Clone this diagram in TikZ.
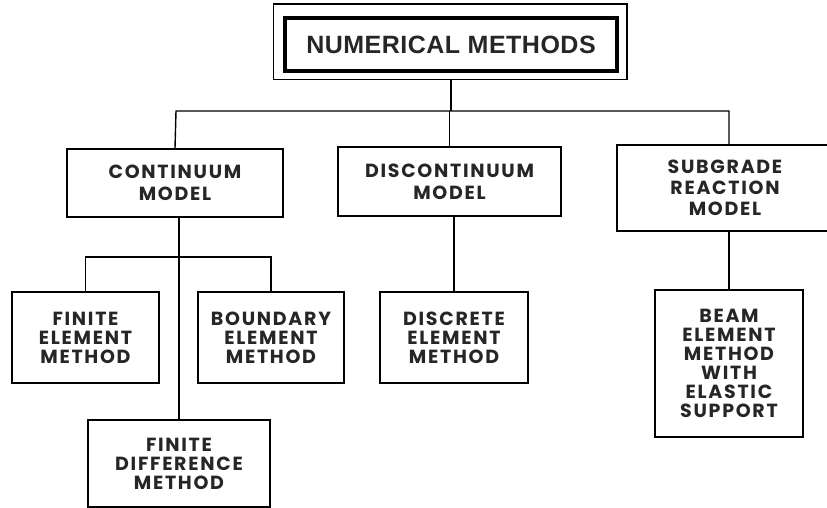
\documentclass[tikz,border=0pt]{standalone}
\usepackage{fontspec}
\setmainfont{Poppins}[LetterSpace=9]
\newfontfamily\titlefont{Liberation Sans}[LetterSpace=2]
\usetikzlibrary{calc}
\begin{document}
\begin{tikzpicture}[x=1pt,y=-1pt,
  box/.style={draw, line width=1.6pt, rectangle, align=center, inner sep=0pt,
    font=\bfseries\fontsize{19}{19}\selectfont, text=black!85},
  conn/.style={line width=1.4pt}]
\useasboundingbox (0,0) rectangle (827,508);
\fill[white] (0,0) rectangle (827,508);
\begin{scope}
\clip (0,0) rectangle (827,508);
% title
\node[draw, line width=3.6pt, minimum width=332pt, minimum height=53pt, inner sep=0pt,
  font=\titlefont\bfseries\fontsize{25}{28}\selectfont, text=black!85] (title) at (451,44.5) {NUMERICAL METHODS};
\draw[line width=1.4pt] ($(title.north west)+(-10,-12)$) rectangle ($(title.south east)+(8,7)$);
% level 2
\node[box, minimum width=216pt, minimum height=68pt] (cont) at (175,183) {CONTINUUM\\[3pt]MODEL};
\node[box, minimum width=223pt, minimum height=69pt] (disc) at (449.5,181.5) {DISCONTINUUM\\[3pt]MODEL};
\node[box, minimum width=216pt, minimum height=86pt] (subg) at (725,188) {SUBGRADE\\[2pt]REACTION\\[2pt]MODEL};
% level 3
\node[box, minimum width=147pt, minimum height=91pt] (fem) at (85.5,337.5) {FINITE\\ELEMENT\\METHOD};
\node[box, minimum width=146pt, minimum height=91pt] (bem) at (271,337.5) {BOUNDARY\\ELEMENT\\METHOD};
\node[box, minimum width=182pt, minimum height=87pt] (fdm) at (179,463.5) {FINITE\\DIFFERENCE\\METHOD};
\node[box, minimum width=148pt, minimum height=91pt] (dem) at (454,337.5) {DISCRETE\\ELEMENT\\METHOD};
\node[box, minimum width=148pt, minimum height=147pt] (beam) at (729,363.5) {BEAM\\ELEMENT\\METHOD\\WITH\\ELASTIC\\SUPPORT};
% connectors
\coordinate (busL) at (176,111);
\coordinate (busR) at (729,111);
\coordinate (branch) at (179,257);
\draw[conn] ($(title.south)+(0,7)$) -- (title.south |- busL);
\draw[conn] (cont.north) -- (busL) -- (busR) -- (busR |- subg.north);
\draw[conn] (disc.north) -- (disc.north |- busL);
\draw[conn] (fdm.north |- cont.south) -- (fdm.north);
\draw[conn] (fem.north) -- (fem.north |- branch) -- (bem.north |- branch) -- (bem.north);
\draw[conn] (dem.north |- disc.south) -- (dem.north);
\draw[conn] (beam.north |- subg.south) -- (beam.north);
\end{scope}
\end{tikzpicture}
\end{document}
